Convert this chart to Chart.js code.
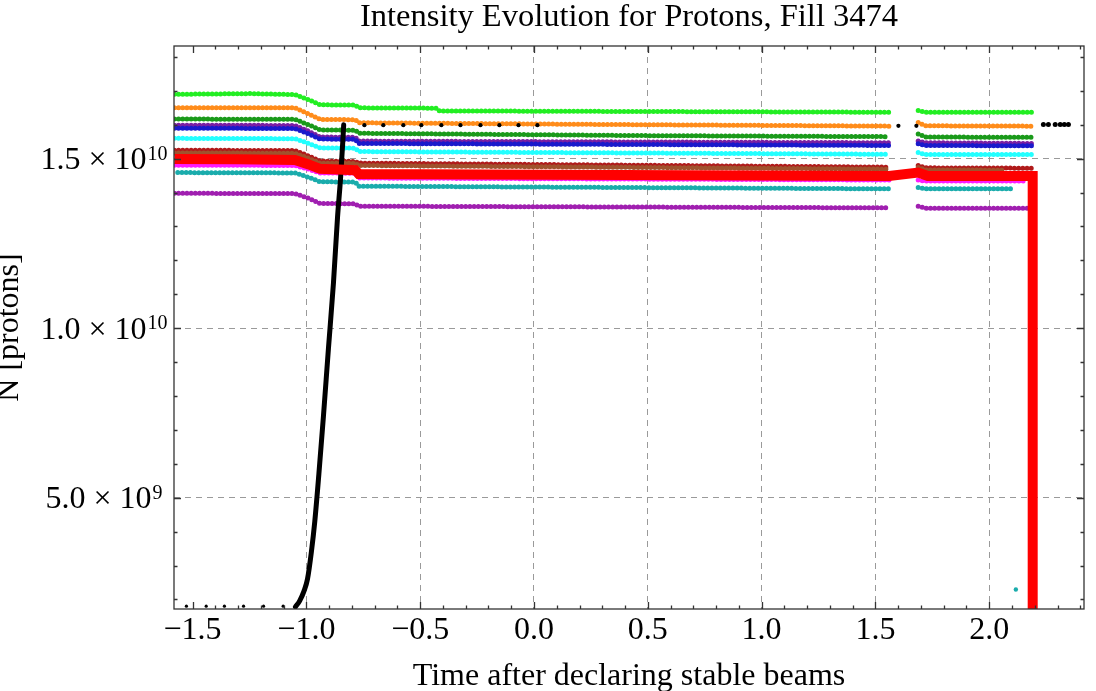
<!DOCTYPE html>
<html>
<head>
<meta charset="utf-8">
<script src="https://cdn.jsdelivr.net/npm/chart.js@4.4.1/dist/chart.umd.min.js"></script>
<style>
  html, body { margin: 0; padding: 0; background: #fff; }
  #wrap { width: 1096px; height: 691px; }
</style>
</head>
<body>
<div id="wrap"><canvas id="chart"></canvas></div>
<script>
/* Intensity evolution per bunch, fill 3474. */

const X_MIN = -1.5815, X_MAX = 2.4164;
const Y_MIN = 1.717e9, Y_MAX = 1.8324e10;

const xTickValues = [-1.5, -1.0, -0.5, 0.0, 0.5, 1.0, 1.5, 2.0];
const yTickValues = [5e9, 1e10, 1.5e10];
const yTickMantissa = ["5.0", "1.0", "1.5"];
const yTickExponent = ["9", "10", "10"];

// [time after stable beams, protons]; a null intensity marks the data gap
const green = [[-1.58,1.690e10],[-1.40,1.691e10],[-1.25,1.692e10],[-1.05,1.689e10],[-0.99,1.674e10],[-0.94,1.659e10],[-0.785,1.658e10],[-0.77,1.650e10],[-0.43,1.649e10],[-0.415,1.641e10],[1.56,1.637e10],[1.62,null],[1.688,1.642e10],[1.72,1.637e10],[2.187,1.637e10]];
const orange = [[-1.58,1.650e10],[-1.05,1.650e10],[-0.99,1.632e10],[-0.94,1.616e10],[-0.785,1.615e10],[-0.77,1.606e10],[0.30,1.601e10],[1.56,1.596e10],[1.62,null],[1.688,1.607e10],[1.72,1.597e10],[2.187,1.596e10]];
const darkGreen = [[-1.58,1.617e10],[-1.05,1.616e10],[-0.99,1.600e10],[-0.94,1.585e10],[-0.785,1.584e10],[-0.77,1.575e10],[0.50,1.568e10],[1.56,1.565e10],[1.62,null],[1.688,1.573e10],[1.72,1.564e10],[2.187,1.563e10]];
const purple = [[-1.58,1.599e10],[-1.05,1.598e10],[-0.99,1.581e10],[-0.94,1.564e10],[-0.785,1.563e10],[-0.77,1.552e10],[1.56,1.547e10],[1.62,null],[1.688,1.552e10],[1.72,1.547e10],[2.187,1.545e10]];
const blue = [[-1.58,1.590e10],[-1.05,1.589e10],[-0.99,1.573e10],[-0.94,1.558e10],[-0.785,1.557e10],[-0.77,1.545e10],[1.56,1.539e10],[1.62,null],[1.688,1.544e10],[1.72,1.539e10],[2.187,1.538e10]];
const cyan = [[-1.58,1.560e10],[-1.05,1.559e10],[-0.99,1.545e10],[-0.94,1.532e10],[-0.785,1.531e10],[-0.77,1.521e10],[1.56,1.513e10],[1.62,null],[1.688,1.518e10],[1.72,1.512e10],[2.187,1.512e10]];
const darkRed = [[-1.58,1.525e10],[-1.05,1.524e10],[-0.99,1.508e10],[-0.94,1.493e10],[-0.785,1.492e10],[-0.77,1.487e10],[1.56,1.475e10],[1.62,null],[1.688,1.480e10],[1.72,1.473e10],[2.187,1.472e10]];
const brown = [[-1.58,1.517e10],[-1.05,1.516e10],[-0.99,1.501e10],[-0.94,1.487e10],[-0.785,1.486e10],[-0.77,1.480e10],[1.56,1.469e10],[1.62,null],[1.688,1.474e10],[1.72,1.467e10],[2.06,1.466e10]];
const red = [[-1.58,1.499e10],[-1.30,1.498e10],[-1.05,1.496e10],[-0.99,1.483e10],[-0.94,1.470e10],[-0.785,1.466e10],[-0.77,1.455e10],[1.56,1.449e10],[1.688,1.459e10],[1.73,1.449e10],[2.191,1.449e10],[2.191,0]];
const magenta = [[-1.58,1.481e10],[-1.05,1.480e10],[-0.99,1.469e10],[-0.94,1.458e10],[-0.785,1.457e10],[-0.77,1.443e10],[1.56,1.437e10],[1.62,null],[1.688,1.437e10],[1.72,1.434e10],[2.16,1.434e10]];
const teal = [[-1.565,1.459e10],[-1.05,1.458e10],[-0.99,1.445e10],[-0.94,1.432e10],[-0.785,1.431e10],[-0.77,1.419e10],[1.56,1.411e10],[1.62,null],[1.688,1.415e10],[1.72,1.411e10],[2.11,1.411e10]];
const lightPurple = [[-1.58,1.398e10],[-1.05,1.397e10],[-0.99,1.383e10],[-0.94,1.368e10],[-0.785,1.367e10],[-0.77,1.360e10],[1.56,1.355e10],[1.62,null],[1.688,1.360e10],[1.72,1.354e10],[2.187,1.354e10]];

// total beam: sparse samples before injection, ramp, sparse samples after
const totalLow = [[-1.527,1.80e9],[-1.440,1.80e9],[-1.360,1.80e9],[-1.276,1.80e9],[-1.188,1.80e9],[-1.102,1.80e9]];
const totalRamp = [[-1.048,1.78e9],[-1.030,1.95e9],[-1.010,2.25e9],[-0.995,2.60e9],[-0.978,3.40e9],[-0.963,4.30e9],[-0.945,5.70e9],[-0.925,7.40e9],[-0.903,9.40e9],[-0.881,1.133e10],[-0.863,1.328e10],[-0.850,1.440e10],[-0.840,1.550e10],[-0.836,1.600e10]];
const totalHigh = [[-0.745,1.599e10],[-0.662,1.599e10],[-0.574,1.599e10],[-0.495,1.599e10],[-0.407,1.599e10],[-0.323,1.599e10],[-0.235,1.599e10],[-0.152,1.599e10],[-0.068,1.599e10],[0.015,1.599e10],[1.601,1.597e10],[1.680,1.597e10]];
const totalEnd = [[2.238,1.601e10],[2.260,1.601e10],[2.290,1.601e10],[2.312,1.601e10],[2.330,1.601e10],[2.348,1.601e10]];
const strayTeal = [[2.117,2.29e9]];

const SERIF = "'Liberation Serif', 'Times New Roman', serif";

function pts(arr) {
  return arr.map(([x, y]) => ({ x, y }));
}

// per-bunch samples sit so close together they read as a row of beads
function bunchLine(arr, color, order) {
  return {
    data: pts(arr),
    showLine: true,
    borderColor: color,
    backgroundColor: color,
    borderWidth: 5,
    borderDash: [0, 4.2],
    borderCapStyle: "round",
    borderJoinStyle: "round",
    pointRadius: 0,
    spanGaps: false,
    order,
  };
}

function dots(arr, color, r, order) {
  return {
    data: pts(arr),
    showLine: false,
    backgroundColor: color,
    borderWidth: 0,
    pointRadius: r,
    order,
  };
}

/* ---- Frame, inward ticks and superscript y labels ------------------------ */

const frameTicks = {
  id: "frameTicks",
  afterDatasetsDraw(chart) {
    const { ctx, chartArea: a, scales: { x, y } } = chart;
    ctx.save();
    ctx.strokeStyle = "#333";
    ctx.lineWidth = 1.3;
    ctx.strokeRect(a.left, a.top, a.right - a.left, a.bottom - a.top);

    ctx.beginPath();
    for (let i = -15; i <= 24; i++) {
      const px = Math.round(x.getPixelForValue(i / 10)) + 0.5;
      const len = i % 5 === 0 ? 7 : 3.5;
      ctx.moveTo(px, a.bottom); ctx.lineTo(px, a.bottom - len);
      ctx.moveTo(px, a.top); ctx.lineTo(px, a.top + len);
    }
    for (let i = 2; i <= 18; i++) {
      const py = Math.round(y.getPixelForValue(i * 1e9)) + 0.5;
      const len = i % 5 === 0 ? 7 : 3.5;
      ctx.moveTo(a.left, py); ctx.lineTo(a.left + len, py);
      ctx.moveTo(a.right, py); ctx.lineTo(a.right - len, py);
    }
    ctx.stroke();

    // y tick labels: mantissa × 10^exp, centred in the gutter
    ctx.fillStyle = "#000";
    ctx.textBaseline = "alphabetic";
    ctx.textAlign = "left";
    yTickValues.forEach((v, i) => {
      const py = y.getPixelForValue(v);
      const main = yTickMantissa[i] + " \u00d7 10";
      ctx.font = "32px " + SERIF;
      const wm = ctx.measureText(main).width;
      ctx.font = "20px " + SERIF;
      const we = ctx.measureText(yTickExponent[i]).width;
      const x0 = 103.5 - (wm + we) / 2;
      ctx.font = "32px " + SERIF;
      ctx.fillText(main, x0, py + 10.5);
      ctx.font = "20px " + SERIF;
      ctx.fillText(yTickExponent[i], x0 + wm + 1, py + 1);
    });
    ctx.restore();
  },
};

/* ---- Chart ---------------------------------------------------------------- */

const ctx = document.getElementById("chart").getContext("2d");

new Chart(ctx, {
  type: "scatter",
  data: {
    datasets: [
      Object.assign(bunchLine(red, "#ff0000", 0), { borderWidth: 10, borderDash: [], borderCapStyle: "butt", borderJoinStyle: "miter", clip: 0 }),
      Object.assign(bunchLine(totalRamp, "#000000", 1), { borderWidth: 5, borderDash: [], cubicInterpolationMode: "monotone" }),
      dots(totalLow, "#000000", 1.6, 2),
      dots(totalHigh, "#000000", 2.1, 2),
      dots(totalEnd, "#000000", 2.5, 2),
      dots(strayTeal, "#1aacac", 2.2, 2),
      bunchLine(green, "#22ee22", 5),
      bunchLine(orange, "#ff8c1a", 5),
      bunchLine(darkGreen, "#1a9a1a", 5),
      bunchLine(blue, "#1a1acc", 5),
      bunchLine(purple, "#7b1fa2", 6),
      bunchLine(cyan, "#22ffff", 5),
      bunchLine(brown, "#a0522d", 5),
      bunchLine(darkRed, "#b01a1a", 6),
      bunchLine(magenta, "#ff1aff", 5),
      bunchLine(teal, "#1aacac", 5),
      bunchLine(lightPurple, "#a01fb0", 5),
    ],
  },
  options: {
    responsive: true,
    maintainAspectRatio: false,
    animation: false,
    events: [],
    layout: { padding: { left: 0, right: 12, top: 0, bottom: 0 } },
    plugins: {
      legend: { display: false },
      tooltip: { enabled: false },
      title: {
        display: true,
        fullSize: false,
        text: "Intensity Evolution for Protons, Fill 3474",
        color: "#000",
        font: { family: SERIF, size: 32.5, weight: "normal", lineHeight: 1 },
        padding: { top: 1.2, bottom: 12.3 },
      },
    },
    scales: {
      x: {
        type: "linear",
        position: "bottom",
        min: X_MIN,
        max: X_MAX,
        afterFit: (s) => { s.height = 82; },
        afterBuildTicks: (s) => { s.ticks = xTickValues.map((value) => ({ value })); },
        ticks: {
          color: "#000",
          padding: 6,
          maxRotation: 0,
          autoSkip: false,
          font: { family: SERIF, size: 32, lineHeight: 1 },
          callback: (v) => (v < 0 ? "\u2212" + Math.abs(v).toFixed(1) : v.toFixed(1)),
        },
        grid: {
          drawTicks: false,
          color: (c) => (c.tick && Math.abs(c.tick.value + 1.5) < 1e-6 ? "rgba(0,0,0,0)" : "#9a9a9a"),
          lineWidth: 1,
        },
        border: { display: false, dash: [6, 5] },
        title: {
          display: true,
          text: "Time after declaring stable beams",
          color: "#000",
          font: { family: SERIF, size: 32, lineHeight: 1 },
          padding: { top: 0, bottom: -1.2 },
        },
      },
      y: {
        type: "linear",
        position: "left",
        min: Y_MIN,
        max: Y_MAX,
        afterFit: (s) => { s.width = 174; },
        afterBuildTicks: (s) => { s.ticks = yTickValues.map((value) => ({ value })); },
        ticks: { display: false },
        grid: { drawTicks: false, color: "#9a9a9a", lineWidth: 1 },
        border: { display: false, dash: [6, 5] },
        title: {
          display: true,
          text: "N [protons]",
          color: "#000",
          font: { family: SERIF, size: 32, lineHeight: 1 },
          padding: { top: -6, bottom: 0 },
        },
      },
    },
  },
  plugins: [frameTicks],
});
</script>
</body>
</html>
